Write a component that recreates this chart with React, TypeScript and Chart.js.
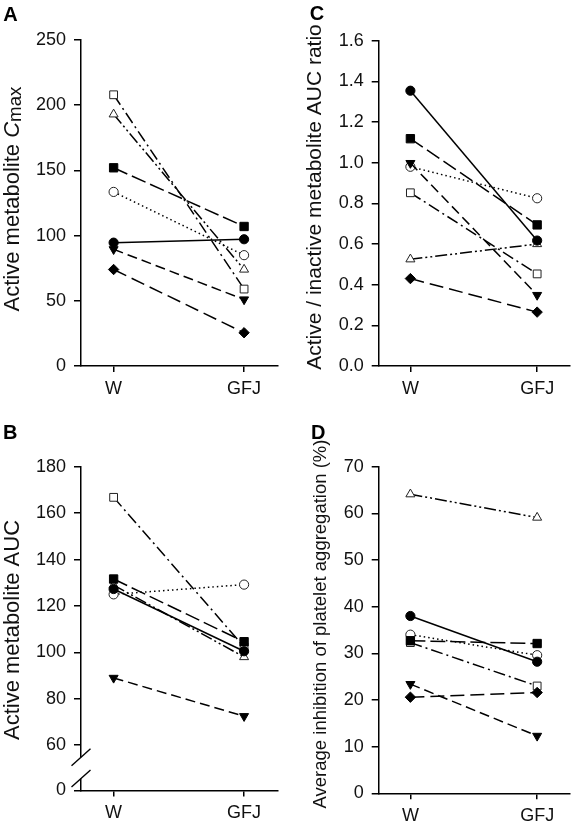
import React, { useEffect, useRef } from 'react';
import { Chart, registerables } from 'chart.js';

Chart.register(...registerables);

const categories = ['W', 'GFJ'];

// subject order: filled circle, filled square, filled down-triangle, filled diamond,
// open circle, open square, open triangle
const cmaxW = [94.6, 152, 89.5, 74, 133.5, 208, 193];
const cmaxGFJ = [97.2, 107, 51, 25.5, 85, 59, 74];
const aucW = [127.3, 131.6, 89, null, 125, 166.8, 129];
const aucGFJ = [100.5, 104.6, 72.5, null, 129.2, 102.4, 98];
const ratioW = [1.354, 1.118, 0.998, 0.43, 0.98, 0.852, 0.525];
const ratioGFJ = [0.617, 0.694, 0.349, 0.265, 0.825, 0.453, 0.6];
const inhibW = [38, 32.7, 23.4, 20.6, 34, 32.3, 64.1];
const inhibGFJ = [28.2, 32.1, 12.3, 21.6, 29.6, 23, 59.1];

const cmaxTicks = [0, 50, 100, 150, 200, 250];
const aucTicks = [60, 80, 100, 120, 140, 160, 180];
const aucBreakLabel = '0';
const ratioTicks = [0, 0.2, 0.4, 0.6, 0.8, 1.0, 1.2, 1.4, 1.6];
const inhibTicks = [0, 10, 20, 30, 40, 50, 60, 70];

const FONT = '"Liberation Sans", Arial, Helvetica, sans-serif';

const subjectStyles = [
  { shape: 'circle', filled: true, dash: [] as number[], r: 4.6, rot: 0 },
  { shape: 'rect', filled: true, dash: [15, 5], r: 5.9, rot: 0 },
  { shape: 'triangle', filled: true, dash: [10, 5], r: 5.2, rot: 180 },
  { shape: 'rectRot', filled: true, dash: [14, 6], r: 5.2, rot: 0 },
  { shape: 'circle', filled: false, dash: [1.5, 3], r: 4.6, rot: 0 },
  { shape: 'rect', filled: false, dash: [12, 4, 2, 4], r: 5.5, rot: 0 },
  { shape: 'triangle', filled: false, dash: [12, 3, 2, 3, 2, 3], r: 5.2, rot: 0 },
];

type Seg = { text: string; italic?: boolean; scale?: number; shift?: number };

interface PanelProps {
  left: number; top: number; width: number; height: number;
  area: { left: number; top: number; right: number; bottom: number };
  letter: string; letterX: number; letterY: number;
  title: Seg[]; titleSize: number; titleX: number; titleY: number;
  wValues: (number | null)[]; gValues: (number | null)[];
  yMin: number; yMax: number; yTicks: number[];
  yLabel: (v: number) => string;
  axisBreak?: boolean;
}

function Panel(p: PanelProps) {
  const ref = useRef<HTMLCanvasElement>(null);
  useEffect(() => {
    const canvas = ref.current!;
    const a = p.area;
    const yAxisW = a.left - p.left;
    const xAxisH = p.top + p.height - a.bottom;

    const datasets: any[] = [];
    subjectStyles.forEach((s, i) => {
      const w = p.wValues[i];
      const g = p.gValues[i];
      if (w == null || g == null) return;
      datasets.push({
        data: [{ x: 0, y: w }, { x: 1, y: g }],
        borderColor: '#000',
        borderWidth: 1.5,
        borderDash: s.dash,
        pointStyle: s.shape,
        pointRadius: s.r,
        pointRotation: s.rot,
        pointBackgroundColor: s.filled ? '#000' : '#fff',
        pointBorderColor: s.filled ? '#000' : '#222',
        pointBorderWidth: 1,
        fill: false,
        tension: 0,
      });
    });

    const decor = {
      id: 'decor',
      afterDraw(chart: any) {
        const ctx = chart.ctx as CanvasRenderingContext2D;
        ctx.save();
        ctx.fillStyle = '#000';
        ctx.textBaseline = 'alphabetic';
        ctx.textAlign = 'left';
        ctx.font = `bold 20px ${FONT}`;
        ctx.fillText(p.letter, p.letterX - p.left, p.letterY - p.top);

        ctx.fillStyle = '#111';
        ctx.translate(p.titleX - p.left, p.titleY - p.top);
        ctx.rotate(-Math.PI / 2);
        const fontOf = (s: Seg) => `${s.italic ? 'italic ' : ''}${p.titleSize * (s.scale || 1)}px ${FONT}`;
        let total = 0;
        const widths = p.title.map((s) => {
          ctx.font = fontOf(s);
          const w = ctx.measureText(s.text).width;
          total += w;
          return w;
        });
        let x = -total / 2;
        p.title.forEach((s, i) => {
          ctx.font = fontOf(s);
          ctx.fillText(s.text, x, s.shift || 0);
          x += widths[i];
        });
        ctx.restore();

        if (p.axisBreak) {
          const ys = chart.scales.y;
          const ax = chart.chartArea.left;
          const yTop = ys.getPixelForValue(p.yTicks[0]) + 12;
          const yBot = chart.chartArea.bottom - 12;
          ctx.save();
          ctx.fillStyle = '#fff';
          ctx.fillRect(ax - 3, yTop, 6, yBot - yTop);
          ctx.strokeStyle = '#000';
          ctx.lineWidth = 1.4;
          [yTop, yBot].forEach((yc) => {
            ctx.beginPath();
            ctx.moveTo(ax - 9.5, yc + 8.5);
            ctx.lineTo(ax + 9.5, yc - 8.5);
            ctx.stroke();
          });
          ctx.restore();
        }
      },
    };

    const chart = new Chart(canvas, {
      type: 'line',
      data: { datasets },
      options: {
        responsive: false,
        animation: false,
        devicePixelRatio: 1,
        layout: {
          padding: { left: 0, top: a.top - p.top, right: p.left + p.width - a.right, bottom: 0 },
        },
        plugins: {
          legend: { display: false },
          tooltip: { enabled: false },
          title: { display: false },
        },
        scales: {
          x: {
            type: 'linear',
            min: -0.25,
            max: 1.26,
            afterBuildTicks: (s: any) => {
              s.ticks = categories.map((_, i) => ({ value: i }));
            },
            afterFit: (s: any) => {
              s.height = xAxisH;
            },
            grid: { drawOnChartArea: false, drawTicks: true, tickLength: 6, color: '#000', lineWidth: 1.5 },
            border: { display: true, color: '#000', width: 1.5 },
            ticks: {
              color: '#111',
              font: { family: FONT, size: 18 },
              padding: 6,
              autoSkip: false,
              maxRotation: 0,
              callback: (v: any) => categories[v] ?? '',
            },
          },
          y: {
            type: 'linear',
            min: p.yMin,
            max: p.yMax,
            afterBuildTicks: (s: any) => {
              const t = p.axisBreak ? [p.yMin, ...p.yTicks] : p.yTicks;
              s.ticks = t.map((v) => ({ value: v }));
            },
            afterFit: (s: any) => {
              s.width = yAxisW;
            },
            grid: { drawOnChartArea: false, drawTicks: true, tickLength: 7, color: '#000', lineWidth: 1.5 },
            border: { display: true, color: '#000', width: 1.5 },
            ticks: {
              color: '#111',
              font: { family: FONT, size: 18 },
              padding: 8,
              autoSkip: false,
              callback: (v: any) => p.yLabel(Number(v)),
            },
          },
        },
      } as any,
      plugins: [decor],
    });
    return () => chart.destroy();
  }, []);
  return (
    <canvas
      ref={ref}
      width={p.width}
      height={p.height}
      style={{ position: 'absolute', left: p.left, top: p.top, width: p.width, height: p.height }}
    />
  );
}

const aucMin = 40.5;

export default function App() {
  return (
    <div style={{ position: 'absolute', left: 0, top: 0, width: 577, height: 828, background: '#fff' }}>
      <Panel
        left={0} top={0} width={290} height={400}
        area={{ left: 81, top: 40, right: 278, bottom: 366 }}
        letter="A" letterX={3.3} letterY={20.7}
        title={[{ text: 'Active metabolite ' }, { text: 'C', italic: true }, { text: 'max', scale: 0.85, shift: 2 }]}
        titleSize={22} titleX={18.5} titleY={199}
        wValues={cmaxW} gValues={cmaxGFJ}
        yMin={0} yMax={250} yTicks={cmaxTicks}
        yLabel={(v) => String(v)}
      />
      <Panel
        left={290} top={0} width={287} height={400}
        area={{ left: 378.7, top: 40.7, right: 576, bottom: 366 }}
        letter="C" letterX={309.7} letterY={20}
        title={[{ text: 'Active / inactive metabolite AUC ratio' }]}
        titleSize={21} titleX={321} titleY={197}
        wValues={ratioW} gValues={ratioGFJ}
        yMin={0} yMax={1.6} yTicks={ratioTicks}
        yLabel={(v) => v.toFixed(1)}
      />
      <Panel
        left={0} top={400} width={290} height={428}
        area={{ left: 81, top: 466.7, right: 278, bottom: 790.5 }}
        letter="B" letterX={3} letterY={439}
        title={[{ text: 'Active metabolite AUC' }]}
        titleSize={22} titleX={18.5} titleY={630}
        wValues={aucW} gValues={aucGFJ}
        yMin={aucMin} yMax={180} yTicks={aucTicks}
        yLabel={(v) => (v === aucMin ? aucBreakLabel : String(v))}
        axisBreak
      />
      <Panel
        left={290} top={400} width={287} height={428}
        area={{ left: 378.7, top: 466.7, right: 576, bottom: 793.3 }}
        letter="D" letterX={311} letterY={439}
        title={[{ text: 'Average inhibition of platelet aggregation (%)' }]}
        titleSize={18.5} titleX={326} titleY={624}
        wValues={inhibW} gValues={inhibGFJ}
        yMin={0} yMax={70} yTicks={inhibTicks}
        yLabel={(v) => String(v)}
      />
    </div>
  );
}
